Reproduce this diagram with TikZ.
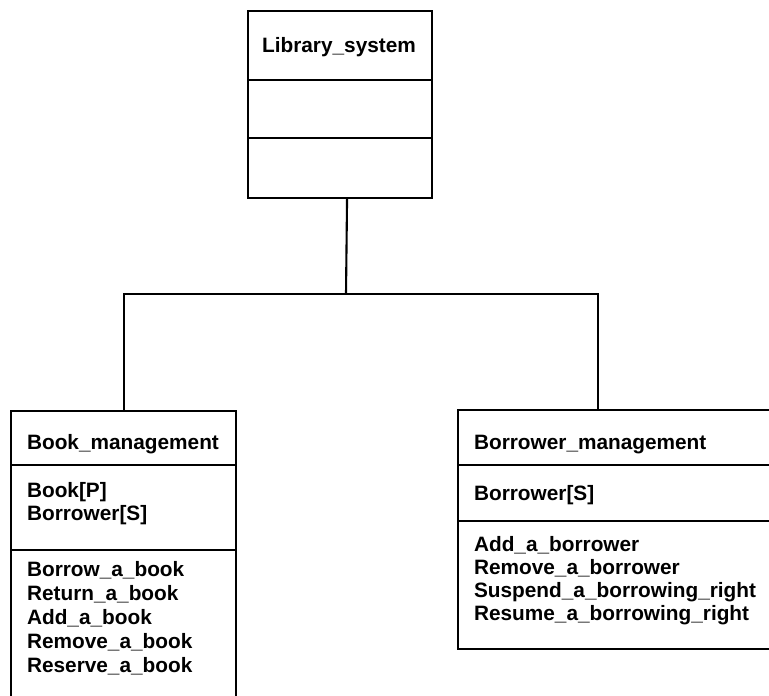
\documentclass[tikz,border=0pt]{standalone}
\usepackage{fontspec}
\setmainfont{Liberation Sans}
\usetikzlibrary{calc}
\begin{document}
\begin{tikzpicture}[x=1pt,y=-1pt,
  line width=2.1pt,
  umlbox/.style={draw, rectangle, anchor=north west, inner sep=0pt},
  divider/.style={line width=2.1pt},
  conn/.style={line width=2.1pt},
  label/.style={anchor=base west, inner sep=0pt, font=\fontsize{20.8}{24}\selectfont\bfseries}]
\useasboundingbox (0,0) rectangle (769,696);
\clip (0,0) rectangle (769,696);

% top-level class
\node[umlbox, minimum width=184pt, minimum height=187pt] (sys) at (247,10) {};
\draw[divider] (247,80) -- (431,80);
\draw[divider] (247,138) -- (431,138);
\node[anchor=base, inner sep=0pt, font=\fontsize{20.8}{24}\selectfont\bfseries] (systitle) at (339,52) {Library\_system};

% Book_management (runs past the lower edge)
\node[umlbox, minimum width=225pt, minimum height=320pt] (book) at (10,410) {};
\draw[divider] (10,465) -- (235,465);
\draw[divider] (10,550) -- (235,550);
\node[label] (booktitle) at (26,449) {Book\_management};
\node[label] (bookattr1) at (26,497) {Book[P]};
\node[label] (bookattr2) at (26,520) {Borrower[S]};
\node[label] (bookop1) at (26,576) {Borrow\_a\_book};
\node[label] (bookop2) at (26,600) {Return\_a\_book};
\node[label] (bookop3) at (26,624) {Add\_a\_book};
\node[label] (bookop4) at (26,648) {Remove\_a\_book};
\node[label] (bookop5) at (26,672) {Reserve\_a\_book};

% Borrower_management (runs past the right edge)
\node[umlbox, minimum width=330pt, minimum height=239pt] (brw) at (457,409) {};
\draw[divider] (457,465) -- (787,465);
\draw[divider] (457,521) -- (787,521);
\node[label] (brwtitle) at (473,449) {Borrower\_management};
\node[label] (brwattr) at (473,500) {Borrower[S]};
\node[label] (brwop1) at (473,551) {Add\_a\_borrower};
\node[label] (brwop2) at (473,574) {Remove\_a\_borrower};
\node[label] (brwop3) at (473,597) {Suspend\_a\_borrowing\_right};
\node[label] (brwop4) at (473,620) {Resume\_a\_borrowing\_right};

% composition tree
\coordinate (stem) at ($(sys.south)+(7,0)$);
\coordinate (hub) at (346,294);
\coordinate (brwtop) at ($(brw.north west)+(141,0)$);
\draw[conn] (stem) -- (hub);
\draw[conn] (hub) -| (book.north);
\draw[conn] (hub) -| (brwtop);
\end{tikzpicture}
\end{document}
